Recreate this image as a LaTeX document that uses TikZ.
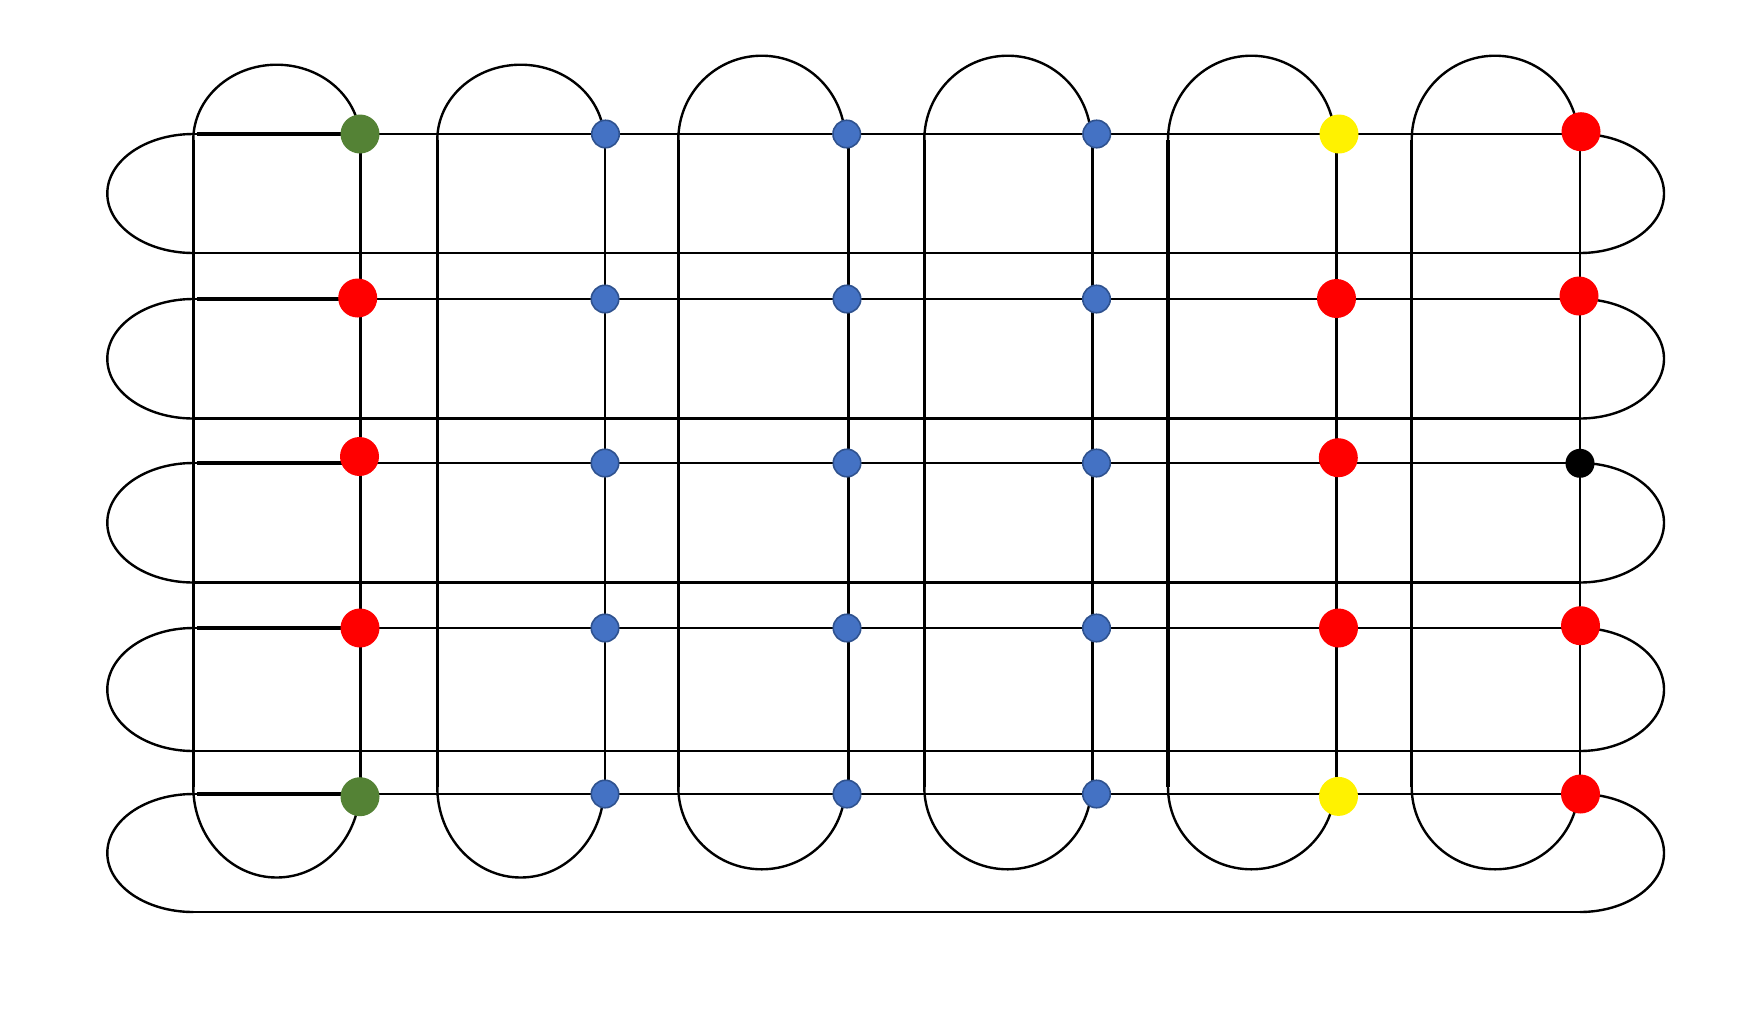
\documentclass[tikz,border=0pt]{standalone}
\usetikzlibrary{backgrounds}
\definecolor{dgreen}{HTML}{548235}
\definecolor{dblue}{HTML}{4472C4}
\definecolor{dblueline}{HTML}{2F528F}
\begin{document}
\begin{tikzpicture}[x=1pt,y=-1pt,
  rowline/.style={line width=2.4pt,black},
  lowline/.style={line width=2.8pt,black},
  thickline/.style={line width=3.4pt,black},
  bigdot/.style={circle,inner sep=0pt,minimum size=39pt,draw=none},
  reddot/.style={bigdot,fill=red},
  greendot/.style={bigdot,fill=dgreen},
  yellowdot/.style={bigdot,fill=yellow},
  bluedot/.style={circle,inner sep=0pt,minimum size=27.5pt,fill=dblue,draw=dblueline,line width=1.6pt},
  blackdot/.style={circle,inner sep=0pt,minimum size=29pt,fill=black,draw=none}]
\useasboundingbox (0,0) rectangle (1749,1013);
% dots
\foreach \n/\x/\y/\s in {
  d11/360/134/greendot, d12/605.5/134/bluedot, d13/846.7/134/bluedot, d14/1096.7/134/bluedot, d15/1339/134/yellowdot, d16/1581/131.7/reddot,
  d21/357.7/298/reddot, d22/605/299/bluedot, d23/847/299/bluedot, d24/1096.5/299/bluedot, d25/1336.5/298.5/reddot, d26/1579/296/reddot,
  d31/359.5/456.5/reddot, d32/605/463/bluedot, d33/847/463/bluedot, d34/1096.5/463/bluedot, d35/1338.3/457.7/reddot, d36/1580/463.3/blackdot,
  d41/360/628/reddot, d42/605/628/bluedot, d43/847/628/bluedot, d44/1096.5/628/bluedot, d45/1338.5/628/reddot, d46/1580.5/625.7/reddot,
  d51/360/796.7/greendot, d52/605/794/bluedot, d53/847/794/bluedot, d54/1096.5/794/bluedot, d55/1338.5/796.4/yellowdot, d56/1580.5/794/reddot}
  \node[\s] (\n) at (\x,\y) {};
\begin{scope}[on background layer]
  \foreach \r/\R/\Lo in {1/134/253,2/299/418.5,3/463/582.5,4/628/751,5/794/912} {
    \coordinate (a\r) at (193.3,\R);
    \coordinate (s\r) at (196.5,\R);
    \coordinate (b\r) at (1580,\R);
    \coordinate (la\r) at (193.3,\Lo);
    \coordinate (lb\r) at (1580,\Lo);
    \draw[rowline] (a\r) -- (b\r);
    \draw[thickline] (s\r) -- (d\r1.center |- s\r);
    \draw[lowline] (la\r) -- (lb\r);
    \draw[rowline] (a\r) arc[start angle=-90,end angle=-270,x radius=86,y radius={(\Lo-\R)/2}];
    \draw[rowline] (b\r) arc[start angle=-90,end angle=90,x radius=84,y radius={(\Lo-\R)/2}];
  }
  \foreach \c/\xl/\xr/\top/\bot in {1/193.3/360.5/64.7/877.5, 2/437.3/605/64.7/877.5, 3/678.3/848.5/55.7/869.3, 4/924.3/1092.5/55.7/869.3, 5/1168/1336.5/55.7/869.3, 6/1411.7/1580/55.7/869.3} {
    \coordinate (t\c) at (\xl,140);
    \coordinate (u\c) at (\xl,787);
    \coordinate (v\c) at (\xr,134);
    \coordinate (w\c) at (\xr,794);
    \draw[thickline] (t\c) -- (u\c);
    \draw[rowline] (v\c) -- (w\c);
    \draw[rowline] (t\c) arc[start angle=180,end angle=360,x radius=83.4,y radius={140-\top}];
    \draw[rowline] (u\c) arc[start angle=180,end angle=0,x radius=83.4,y radius={\bot-787}];
  }
\end{scope}
\end{tikzpicture}
\end{document}
